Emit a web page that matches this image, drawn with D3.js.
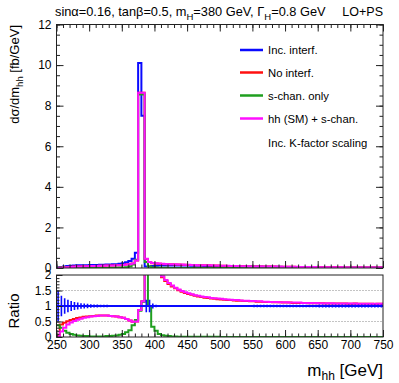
<!DOCTYPE html>
<html>
<head>
<meta charset="utf-8">
<script src="https://cdn.jsdelivr.net/npm/d3@7"></script>
<style>
    body { margin: 0; background: #fff; }
    svg { display: block; font-family: "Liberation Sans", Arial, Helvetica, sans-serif; }
</style>
</head>
<body>
<div id="chart"></div>
<script>

// ---- data (5 GeV bins from 250 to 750 GeV) ----
const massLow = 250, massHigh = 750, binWidth = 5;

// dsigma/dm_hh [fb/GeV]
const incInterf = [
    0.02,0.05,0.08,0.10,0.11,0.12,0.13,0.13,0.14,0.14,
    0.15,0.15,0.15,0.16,0.16,0.17,0.17,0.18,0.19,0.21,
    0.24,0.28,0.34,0.45,0.75,10.1,7.5,0.08,0.08,0.10,
    0.11,0.12,0.12,0.12,0.12,0.12,0.12,0.12,0.12,0.12,
    0.12,0.11,0.11,0.11,0.11,0.10,0.10,0.10,0.10,0.09,
    0.09,0.09,0.09,0.08,0.08,0.08,0.08,0.08,0.07,0.07,
    0.07,0.07,0.07,0.06,0.06,0.06,0.06,0.06,0.06,0.05,
    0.05,0.05,0.05,0.05,0.05,0.05,0.04,0.04,0.04,0.04,
    0.04,0.04,0.04,0.04,0.04,0.04,0.03,0.03,0.03,0.03,
    0.03,0.03,0.03,0.03,0.03,0.03,0.03,0.03,0.02,0.02
];
const noInterf = [
    0.00,0.02,0.04,0.05,0.06,0.07,0.08,0.08,0.09,0.09,
    0.10,0.10,0.10,0.11,0.11,0.12,0.12,0.12,0.13,0.13,
    0.15,0.17,0.19,0.22,0.37,8.64,8.64,0.44,0.29,0.24,
    0.22,0.21,0.20,0.19,0.18,0.18,0.17,0.17,0.16,0.16,
    0.15,0.15,0.14,0.14,0.13,0.13,0.13,0.12,0.12,0.12,
    0.11,0.11,0.10,0.10,0.10,0.09,0.09,0.09,0.08,0.08,
    0.08,0.08,0.07,0.07,0.07,0.07,0.07,0.06,0.06,0.06,
    0.06,0.06,0.06,0.05,0.05,0.05,0.05,0.05,0.05,0.04,
    0.04,0.04,0.04,0.04,0.04,0.04,0.04,0.03,0.03,0.03,
    0.03,0.03,0.03,0.03,0.03,0.03,0.03,0.03,0.02,0.02
];
const sChanOnly = [
    0.01,0.02,0.02,0.01,0.01,0.01,0.01,0.00,0.00,0.00,
    0.00,0.00,0.00,0.00,0.00,0.00,0.01,0.01,0.01,0.02,
    0.03,0.04,0.07,0.17,0.41,8.55,8.55,0.30,0.08,0.03,
    0.02,0.01,0.01,0.01,0.00,0.00,0.00,0.00,0.00,0.00,
    0.00,0.00,0.00,0.00,0.00,0.00,0.00,0.00,0.00,0.00,
    0.00,0.00,0.00,0.00,0.00,0.00,0.00,0.00,0.00,0.00,
    0.00,0.00,0.00,0.00,0.00,0.00,0.00,0.00,0.00,0.00,
    0.00,0.00,0.00,0.00,0.00,0.00,0.00,0.00,0.00,0.00,
    0.00,0.00,0.00,0.00,0.00,0.00,0.00,0.00,0.00,0.00,
    0.00,0.00,0.00,0.00,0.00,0.00,0.00,0.00,0.00,0.00
];
const smPlusSChan = [
    0.00,0.01,0.03,0.04,0.05,0.06,0.07,0.08,0.09,0.09,
    0.10,0.10,0.10,0.11,0.11,0.12,0.12,0.12,0.13,0.13,
    0.15,0.17,0.19,0.22,0.37,8.64,8.64,0.45,0.30,0.25,
    0.23,0.22,0.21,0.20,0.19,0.18,0.18,0.17,0.17,0.16,
    0.16,0.15,0.15,0.14,0.14,0.13,0.13,0.13,0.12,0.12,
    0.11,0.11,0.11,0.10,0.10,0.10,0.09,0.09,0.09,0.08,
    0.08,0.08,0.08,0.07,0.07,0.07,0.07,0.07,0.06,0.06,
    0.06,0.06,0.06,0.06,0.05,0.05,0.05,0.05,0.05,0.05,
    0.04,0.04,0.04,0.04,0.04,0.04,0.04,0.04,0.03,0.03,
    0.03,0.03,0.03,0.03,0.03,0.03,0.03,0.03,0.03,0.02
];

// ratio to "Inc. interf."
const ratioNoInterf = [
    0.05,0.40,0.46,0.51,0.55,0.58,0.61,0.63,0.65,0.66,
    0.67,0.68,0.69,0.69,0.69,0.69,0.68,0.67,0.66,0.64,
    0.62,0.58,0.53,0.49,0.50,0.87,1.15,5.00,5.00,5.00,
    3.40,2.25,1.93,1.81,1.71,1.63,1.57,1.51,1.46,1.42,
    1.39,1.36,1.33,1.31,1.29,1.27,1.26,1.24,1.23,1.22,
    1.21,1.20,1.19,1.19,1.18,1.17,1.17,1.16,1.16,1.15,
    1.15,1.14,1.14,1.13,1.13,1.13,1.12,1.12,1.12,1.11,
    1.11,1.11,1.10,1.10,1.10,1.10,1.10,1.09,1.09,1.09,
    1.09,1.09,1.08,1.08,1.08,1.08,1.08,1.08,1.08,1.07,
    1.07,1.08,1.07,1.07,1.07,1.07,1.07,1.06,1.07,1.07
];
const ratioSChan = [
    0.38,0.30,0.20,0.14,0.10,0.07,0.05,0.04,0.03,0.03,
    0.02,0.02,0.02,0.02,0.02,0.03,0.03,0.04,0.05,0.07,
    0.10,0.15,0.22,0.38,0.55,0.85,1.14,5.00,1.00,0.33,
    0.20,0.10,0.06,0.04,0.03,0.02,0.02,0.01,0.01,0.01,
    0.01,0.01,0.01,0.01,0.01,0.01,0.01,0.01,0.01,0.01,
    0.00,0.00,0.00,0.00,0.00,0.00,0.00,0.00,0.00,0.00,
    0.00,0.00,0.00,0.00,0.00,0.00,0.00,0.00,0.00,0.00,
    0.00,0.00,0.00,0.00,0.00,0.00,0.00,0.00,0.00,0.00,
    0.00,0.00,0.00,0.00,0.00,0.00,0.00,0.00,0.00,0.00,
    0.00,0.00,0.00,0.00,0.00,0.00,0.00,0.00,0.00,0.00
];
const ratioSmPlusSChan = [
    0.02,0.18,0.30,0.40,0.47,0.52,0.56,0.59,0.62,0.64,
    0.66,0.67,0.68,0.69,0.69,0.69,0.68,0.67,0.66,0.64,
    0.62,0.58,0.53,0.49,0.50,0.87,1.15,5.00,5.00,5.00,
    3.50,2.30,1.96,1.84,1.74,1.66,1.59,1.53,1.48,1.44,
    1.41,1.38,1.35,1.33,1.31,1.29,1.28,1.26,1.25,1.24,
    1.23,1.22,1.21,1.20,1.19,1.19,1.18,1.17,1.17,1.16,
    1.16,1.15,1.15,1.14,1.14,1.13,1.13,1.13,1.12,1.12,
    1.12,1.11,1.11,1.11,1.11,1.10,1.10,1.10,1.10,1.10,
    1.09,1.09,1.09,1.09,1.09,1.08,1.08,1.08,1.08,1.08,
    1.08,1.08,1.07,1.07,1.07,1.07,1.07,1.07,1.07,1.07
];
// stat. uncertainty on the reference (ratio = 1)
const ratioRefErr = [
    0.50,0.33,0.25,0.20,0.16,0.13,0.11,0.09,0.08,0.07,
    0.06,0.05,0.05,0.04,0.04,0.04,0.03,0.03,0.03,0.03,
    0.03,0.02,0.02,0.02,0.02,0.01,0.01,0.20,0.20,0.08,
    0.04,0.03,0.03,0.03,0.03,0.03,0.03,0.03,0.03,0.03,
    0.03,0.03,0.03,0.03,0.03,0.03,0.03,0.03,0.03,0.03,
    0.03,0.03,0.03,0.03,0.03,0.03,0.03,0.03,0.03,0.03,
    0.04,0.04,0.04,0.04,0.04,0.04,0.04,0.04,0.04,0.04,
    0.04,0.04,0.04,0.04,0.04,0.04,0.04,0.04,0.04,0.04,
    0.05,0.05,0.05,0.05,0.05,0.05,0.05,0.05,0.05,0.05,
    0.05,0.05,0.05,0.05,0.05,0.05,0.05,0.05,0.05,0.05
];

const xTicks = [250, 300, 350, 400, 450, 500, 550, 600, 650, 700, 750];
const yTicksMain = [0, 2, 4, 6, 8, 10, 12];
const yTicksRatio = [0, 0.5, 1, 1.5, 2];

const series = [
    {label: "Inc. interf.",       color: "#0a0aff", main: incInterf,   ratio: null},
    {label: "No interf.",         color: "#ff1010", main: noInterf,    ratio: ratioNoInterf},
    {label: "s-chan. only",       color: "#1f9f1f", main: sChanOnly,   ratio: ratioSChan},
    {label: "hh (SM) + s-chan.",  color: "#ff10ff", main: smPlusSChan, ratio: ratioSmPlusSChan}
];

// ---- layout ----
const width = 399, height = 383;
const frame = {left: 56.5, right: 383, mainTop: 24.5, mainBottom: 268, ratioTop: 275, ratioBottom: 337};
const binEdges = d3.range(massLow, massHigh + binWidth, binWidth);

const svg = d3.select("#chart").append("svg")
    .attr("width", width)
    .attr("height", height);

const x = d3.scaleLinear().domain([massLow, massHigh]).range([frame.left, frame.right]);
const yMain = d3.scaleLinear().domain([0, 12]).range([frame.mainBottom, frame.mainTop]);
const yRatio = d3.scaleLinear().domain([0, 2]).range([frame.ratioBottom, frame.ratioTop]);

// clip paths
const defs = svg.append("defs");
defs.append("clipPath").attr("id", "clipMain").append("rect")
    .attr("x", frame.left).attr("y", frame.mainTop)
    .attr("width", frame.right - frame.left).attr("height", frame.mainBottom - frame.mainTop);
defs.append("clipPath").attr("id", "clipRatio").append("rect")
    .attr("x", frame.left).attr("y", frame.ratioTop)
    .attr("width", frame.right - frame.left).attr("height", frame.ratioBottom - frame.ratioTop);

// step histogram through d3.line
function histLine(yScale) {
    return d3.line()
        .x(d => x(d[0]))
        .y(d => yScale(d[1]))
        .curve(d3.curveStepAfter);
}
function histPoints(values) {
    let pts = values.map((v, i) => [binEdges[i], v]);
    pts.push([massHigh, values[values.length - 1]]);
    return pts;
}

// ---- axes helper: ROOT style inward ticks ----
function drawAxis(g, axisFn, scale, major, minor, majorLen, minorLen, fmt, pad) {
    g.append("g").call(axisFn(scale).tickValues(minor).tickSize(-minorLen).tickFormat(""))
        .call(a => a.select(".domain").remove());
    let ax = g.append("g").call(axisFn(scale).tickValues(major).tickSize(-majorLen)
        .tickPadding(pad).tickFormat(fmt))
        .call(a => a.select(".domain").remove());
    g.selectAll("line").attr("stroke", "#222");
    return ax;
}

const xMinor = d3.range(massLow, massHigh + 1, 10);

// ================= MAIN PANEL =================
let mainG = svg.append("g");

let mainPlot = mainG.append("g").attr("clip-path", "url(#clipMain)");
series.forEach(s => {
    mainPlot.append("path")
        .datum(histPoints(s.main))
        .attr("d", histLine(yMain))
        .attr("fill", "none")
        .attr("stroke", s.color)
        .attr("stroke-width", 2);
});

mainG.append("rect")
    .attr("x", frame.left).attr("y", frame.mainTop)
    .attr("width", frame.right - frame.left).attr("height", frame.mainBottom - frame.mainTop)
    .attr("fill", "none").attr("stroke", "#222").attr("stroke-width", 1);

let axG = mainG.append("g").attr("transform", `translate(0, ${frame.mainBottom})`);
drawAxis(axG, d3.axisBottom, x, xTicks, xMinor, 7, 3.5, () => "", 0);
axG = mainG.append("g").attr("transform", `translate(0, ${frame.mainTop})`);
drawAxis(axG, d3.axisTop, x, xTicks, xMinor, 7, 3.5, () => "", 0);

let yMinorMain = d3.range(0, 12.01, 0.5);
axG = mainG.append("g").attr("transform", `translate(${frame.left}, 0)`);
drawAxis(axG, d3.axisLeft, yMain, yTicksMain, yMinorMain, 7, 3.5, d3.format("d"), 5)
    .selectAll("text").attr("font-size", 12).attr("fill", "#000")
    .style("font-family", "'Liberation Sans', Arial, sans-serif");
axG = mainG.append("g").attr("transform", `translate(${frame.right}, 0)`);
drawAxis(axG, d3.axisRight, yMain, yTicksMain, yMinorMain, 7, 3.5, () => "", 0);

// legend
const legend = mainG.append("g").attr("class", "legend");
const legendY = [50, 72.5, 95.5, 118.5];
series.forEach((s, i) => {
    legend.append("line")
        .attr("x1", 240).attr("x2", 263)
        .attr("y1", legendY[i]).attr("y2", legendY[i])
        .attr("stroke", s.color).attr("stroke-width", 2.5);
    legend.append("text")
        .attr("x", 268).attr("y", legendY[i] + 4)
        .attr("font-size", 11.3)
        .text(s.label);
});
legend.append("text")
    .attr("x", 268).attr("y", 147)
    .attr("font-size", 11.3)
    .text("Inc. K-factor scaling");

// ================= RATIO PANEL =================
let ratioG = svg.append("g");

// dotted reference lines
ratioG.selectAll(".grid")
    .data([0.5, 1, 1.5])
    .enter().append("line")
    .attr("class", "grid")
    .attr("x1", frame.left).attr("x2", frame.right)
    .attr("y1", d => yRatio(d)).attr("y2", d => yRatio(d))
    .attr("stroke", "#888").attr("stroke-width", 1)
    .attr("stroke-dasharray", "1,2");

let ratioPlot = ratioG.append("g").attr("clip-path", "url(#clipRatio)");
series.filter(s => s.ratio).forEach(s => {
    ratioPlot.append("path")
        .datum(histPoints(s.ratio))
        .attr("d", histLine(yRatio))
        .attr("fill", "none")
        .attr("stroke", s.color)
        .attr("stroke-width", 2);
});

// reference: ratio = 1 with error bars
const refColor = series[0].color;
ratioPlot.append("path")
    .datum(histPoints(ratioRefErr.map(() => 1)))
    .attr("d", histLine(yRatio))
    .attr("fill", "none")
    .attr("stroke", refColor)
    .attr("stroke-width", 2);
ratioPlot.selectAll(".errbar")
    .data(ratioRefErr)
    .enter().append("line")
    .attr("class", "errbar")
    .attr("x1", (d, i) => x(binEdges[i] + binWidth / 2))
    .attr("x2", (d, i) => x(binEdges[i] + binWidth / 2))
    .attr("y1", d => yRatio(1 - d))
    .attr("y2", d => yRatio(1 + d))
    .attr("stroke", refColor)
    .attr("stroke-width", 1.6);

ratioG.append("rect")
    .attr("x", frame.left).attr("y", frame.ratioTop)
    .attr("width", frame.right - frame.left).attr("height", frame.ratioBottom - frame.ratioTop)
    .attr("fill", "none").attr("stroke", "#222").attr("stroke-width", 1);

axG = ratioG.append("g").attr("transform", `translate(0, ${frame.ratioBottom})`);
drawAxis(axG, d3.axisBottom, x, xTicks, xMinor, 7, 3.5, d3.format("d"), 3)
    .selectAll("text").attr("font-size", 12).attr("fill", "#000")
    .style("font-family", "'Liberation Sans', Arial, sans-serif");

axG = ratioG.append("g").attr("transform", `translate(${frame.left}, 0)`);
drawAxis(axG, d3.axisLeft, yRatio, yTicksRatio, d3.range(0, 2.01, 0.1), 6, 3, d3.format("~g"), 5)
    .selectAll("text").attr("font-size", 12).attr("fill", "#000")
    .style("font-family", "'Liberation Sans', Arial, sans-serif");

// ================= TITLES =================
const title = svg.append("text")
    .attr("x", 55).attr("y", 16)
    .attr("font-size", 12.8);
title.append("tspan").text("sinα=0.16, tanβ=0.5, m");
title.append("tspan").attr("dy", 4).attr("font-size", 9.5).text("H");
title.append("tspan").attr("dy", -4).text("=380 GeV, Γ");
title.append("tspan").attr("dy", 4).attr("font-size", 9.5).text("H");
title.append("tspan").attr("dy", -4).text("=0.8 GeV");

svg.append("text")
    .attr("x", 383).attr("y", 16)
    .attr("text-anchor", "end")
    .attr("font-size", 12.5)
    .text("LO+PS");

// y title (main)
const yTitle = svg.append("text")
    .attr("transform", "translate(19, 25) rotate(-90)")
    .attr("text-anchor", "end")
    .attr("font-size", 13);
yTitle.append("tspan").text("dσ/dm");
yTitle.append("tspan").attr("dy", 4).attr("font-size", 9.5).text("hh");
yTitle.append("tspan").attr("dy", -4).text(" [fb/GeV]");

// y title (ratio)
svg.append("text")
    .attr("transform", "translate(19, 311) rotate(-90)")
    .attr("text-anchor", "middle")
    .attr("font-size", 15)
    .text("Ratio");

// x title
const xTitle = svg.append("text")
    .attr("x", 383).attr("y", 376)
    .attr("text-anchor", "end")
    .attr("font-size", 17);
xTitle.append("tspan").text("m");
xTitle.append("tspan").attr("dy", 4).attr("font-size", 12).text("hh");
xTitle.append("tspan").attr("dy", -4).text(" [GeV]");

</script>
</body>
</html>
